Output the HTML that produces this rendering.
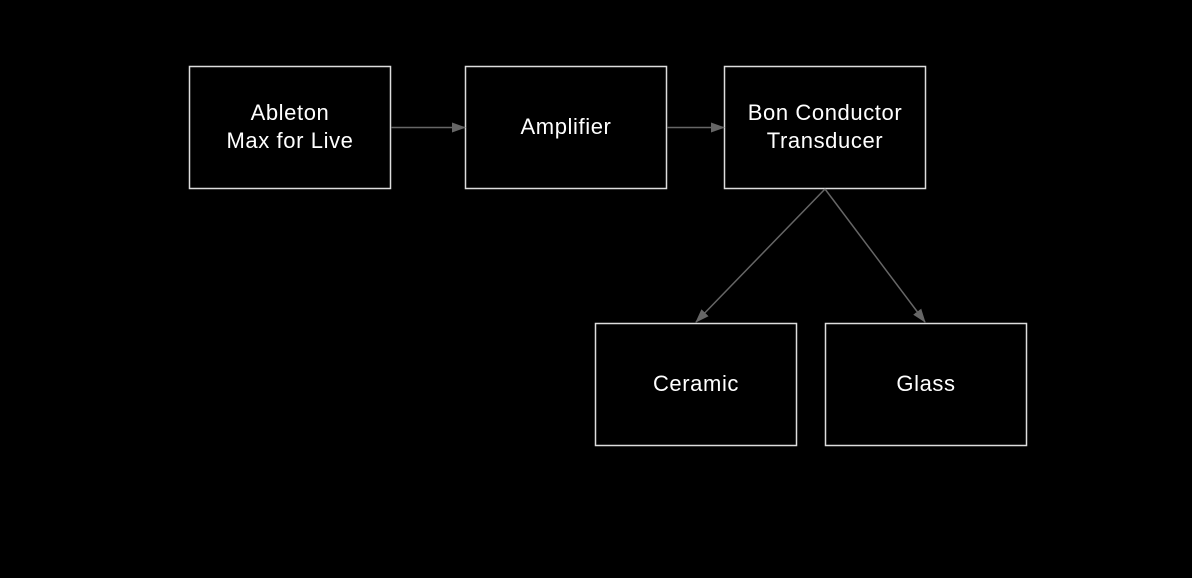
<!DOCTYPE html>
<html><head><meta charset="utf-8"><style>
html,body{margin:0;padding:0;background:#000;width:1192px;height:578px;overflow:hidden}
</style></head><body>
<svg width="1192" height="578" xmlns="http://www.w3.org/2000/svg" style="display:block">
<defs><marker id="a" markerWidth="14" markerHeight="10" refX="13" refY="5" orient="auto" markerUnits="userSpaceOnUse"><path d="M0,0 L14,5 L0,10 z" fill="#666"/></marker></defs>
<g fill="none" stroke="#ddd" stroke-width="1.5">
<rect x="189.5" y="66.5" width="201" height="122"/>
<rect x="465.5" y="66.5" width="201" height="122"/>
<rect x="724.5" y="66.5" width="201" height="122"/>
<rect x="595.5" y="323.5" width="201" height="122"/>
<rect x="825.5" y="323.5" width="201" height="122"/>
</g>
<g stroke="#666" stroke-width="1.5">
<line x1="391" y1="127.5" x2="465" y2="127.5" marker-end="url(#a)"/>
<line x1="667" y1="127.5" x2="724" y2="127.5" marker-end="url(#a)"/>
<line x1="825" y1="189" x2="696" y2="322" marker-end="url(#a)"/>
<line x1="825" y1="189" x2="925" y2="322" marker-end="url(#a)"/>
</g>
<g fill="#fff" font-family="Liberation Sans, sans-serif" font-size="22" letter-spacing="0.6" text-anchor="middle">
<text x="290" y="120">Ableton</text><text x="290" y="148">Max for Live</text>
<text x="566" y="134">Amplifier</text>
<text x="825" y="120">Bon Conductor</text><text x="825" y="148">Transducer</text>
<text x="696" y="391">Ceramic</text>
<text x="926" y="391">Glass</text>
</g>
</svg>
</body></html>
